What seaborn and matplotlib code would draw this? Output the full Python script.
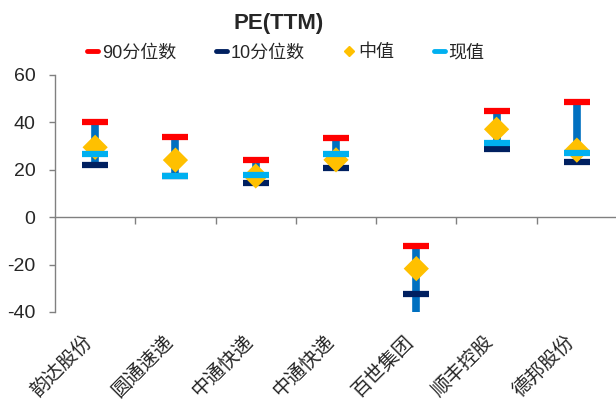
import numpy as np
import pandas as pd
import matplotlib
matplotlib.use("Agg")
import matplotlib.pyplot as plt
from matplotlib.lines import Line2D
import seaborn as sns

# --- datos ---
categories = ["韵达股份", "圆通速递", "中通快递", "中通快递", "百世集团", "顺丰控股", "德邦股份"]
p90 = [40.2, 33.9, 24.3, 33.5, -12.2, 44.9, 48.7]
p10 = [22.2, 17.5, 14.5, 20.8, -32.6, 28.7, 23.3]
median = [29.5, 24.1, 17.4, 24.2, -21.7, 37.1, 28.3]
current = [26.5, 17.4, 18.0, 26.5, -50.0, 31.4, 26.9]

RED, NAVY, GOLD, LBLUE, BLUE = "#FF0000", "#002060", "#FFC000", "#00B0F0", "#0070C0"

sns.set_theme(style="white")
plt.rcParams["font.family"] = ["Liberation Sans", "Noto Sans CJK SC", "DejaVu Sans"]
plt.rcParams["axes.unicode_minus"] = False

df = pd.DataFrame({"cat": categories, "p90": p90, "p10": p10,
                   "median": median, "current": current})
df["x"] = np.arange(len(df))

fig = plt.figure(figsize=(6.16, 4.01), dpi=100)
ax = fig.add_axes([55 / 616, 1 - 312 / 401, 562 / 616, 237 / 401])
ax.grid(False)

# línea alto-bajo
vals = df[["p90", "p10", "median", "current"]].to_numpy()
ax.vlines(df["x"], vals.min(axis=1), vals.max(axis=1), color=BLUE, lw=5.5, zorder=1)

bar_kw = dict(marker="_", linestyle="none", markersize=19, markeredgewidth=4.5)
ax.plot(df["x"], df["p90"], color=RED, zorder=2, **bar_kw)
ax.plot(df["x"], df["p10"], color=NAVY, zorder=3, **bar_kw)
sns.scatterplot(data=df, x="x", y="median", marker="D", s=165, color=GOLD,
                edgecolor="none", linewidth=0, zorder=4, ax=ax, legend=False)
ax.plot(df["x"], df["current"], color=LBLUE, zorder=5, **bar_kw)

ax.set_xlim(-0.5, len(df) - 0.5)
ax.set_ylim(-40, 60)
ax.set_yticks([-40, -20, 0, 20, 40, 60])
ax.tick_params(axis="y", left=True, length=4, width=1, color="#808080",
               labelsize=14, direction="out", pad=10)
ax.set_xlabel("")
ax.set_ylabel("")
for s in ["top", "right"]:
    ax.spines[s].set_visible(False)
for s in ["left", "bottom"]:
    ax.spines[s].set_color("#808080")
    ax.spines[s].set_linewidth(1)

# eje en cero con marcas entre categorías
ax.spines["bottom"].set_position(("data", 0))
ax.set_xticks(df["x"][:-1] + 0.5)
ax.set_xticklabels([])
ax.tick_params(axis="x", bottom=True, length=5, width=1, color="#808080", direction="out")

# etiquetas de categoría bajo el área de trazado
for i, name in zip(df["x"], categories):
    ax.text(i - 0.15, -0.085, name, transform=ax.get_xaxis_transform(),
            rotation=45, ha="right", va="top", rotation_mode="anchor", fontsize=14)

fig.text(279 / 616, 1 - 23 / 401, "PE(TTM)", ha="center", va="center",
         fontsize=16, fontweight="bold")

handles = [
    Line2D([], [], color=RED, lw=3.5),
    Line2D([], [], color=NAVY, lw=3.5),
    Line2D([], [], color=GOLD, marker="D", linestyle="none", markersize=5.5),
    Line2D([], [], color=LBLUE, lw=3.5),
]
labels = ["90分位数", "10分位数", "中值", "现值"]
fig.legend(handles, labels, loc="center", bbox_to_anchor=(286 / 616, 1 - 53 / 401),
           ncol=4, frameon=False, fontsize=13, handlelength=0.6, handletextpad=0.2,
           columnspacing=2.2)

fig.savefig("out.png", dpi=100)
